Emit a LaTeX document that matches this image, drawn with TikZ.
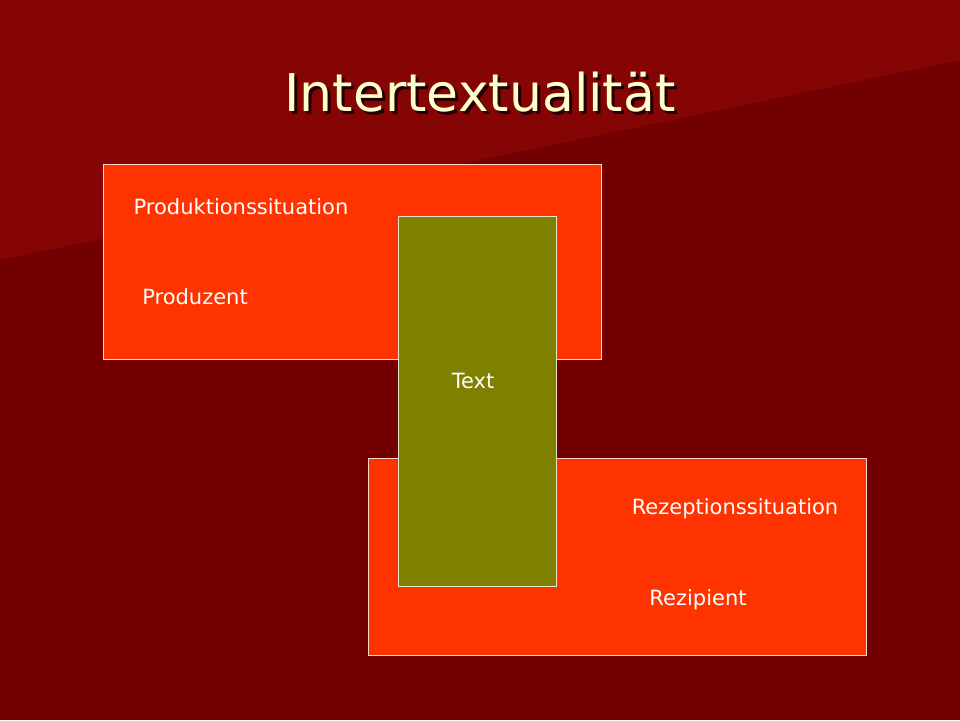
\documentclass[tikz,border=0pt]{standalone}
\usepackage{fontspec}
\setmainfont{DejaVu Sans}
\definecolor{bgdark}{HTML}{720000}
\definecolor{bglight}{HTML}{850505}
\definecolor{situation}{HTML}{FF3300}
\definecolor{textbox}{HTML}{808000}
\definecolor{titlecol}{HTML}{FFFFCC}
\tikzset{
  situationbox/.style={draw=white!80!situation, line width=0.8pt, fill=situation},
  label/.style={text=white, font=\fontsize{21}{24}\selectfont, inner sep=0pt}
}
\begin{document}
\begin{tikzpicture}[x=1pt,y=-1pt]
  % background
  \fill[bgdark] (0,0) rectangle (960,720);
  \fill[bglight] (0,0) -- (960,0) -- (960,60) -- (0,260) -- cycle;
  \useasboundingbox (0,0) rectangle (960,720);

  % title
  \node[text=black!70!bgdark, font=\fontsize{52}{58}\selectfont] at (483,95) {Intertextualität};
  \node[text=titlecol, font=\fontsize{52}{58}\selectfont] (title) at (480,92) {Intertextualität};

  % situations
  \draw[situationbox] (103,164) rectangle (601,359);
  \draw[situationbox] (368,458) rectangle (866,655);
  \draw[draw=white!80!textbox, line width=0.8pt, fill=textbox] (398,216) rectangle (556,586);

  \node[label] (prodsit) at (241,207) {Produktionssituation};
  \node[label] (prod) at (195,297) {Produzent};
  \node[label] (text) at (473,381) {Text};
  \node[label] (rezsit) at (735,509) {Rezeptionssituation};
  \node[label] (rez) at (698,600) {Rezipient};
\end{tikzpicture}
\end{document}
